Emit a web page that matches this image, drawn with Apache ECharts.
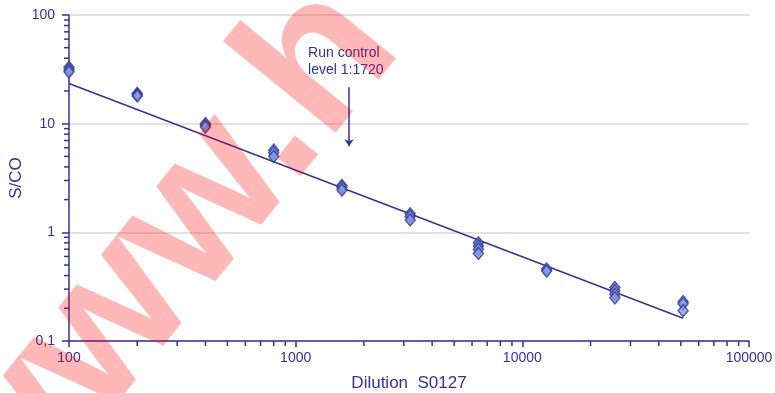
<!DOCTYPE html>
<html>
<head>
<meta charset="utf-8">
<script src="https://cdn.jsdelivr.net/npm/echarts@6/dist/echarts.min.js"></script>
<style>
  html, body { margin: 0; padding: 0; background: #ffffff; }
  #chart { width: 775px; height: 393px; }
</style>
</head>
<body>
<div id="chart"></div>
<script>
// Dilution series of S0127: S/CO readings (replicates) per dilution factor
const dilutions = [100, 200, 400, 800, 1600, 3200, 6400, 12800, 25600, 51200];
const replicates = [
  [33, 31.5, 30],
  [19, 18.5, 18],
  [10, 9.7, 9.3],
  [5.7, 5.4, 5.0],
  [2.7, 2.6, 2.45],
  [1.48, 1.4, 1.3],
  [0.8, 0.75, 0.7, 0.64],
  [0.46, 0.44],
  [0.31, 0.29, 0.27, 0.25],
  [0.23, 0.22, 0.19]
];

// Power trend line end points
const trendX = [100, 51200];
const trendY = [23.4, 0.162];

// Run control annotation (dilution 1:1720), arrow from/to S/CO
const controlDilution = 1720;
const arrowFromTo = [21.6, 6.2];
const controlText = ['Run control', 'level 1:1720'];

// Axis ranges and minor tick positions
const xRange = [100, 100000];
const yRange = [0.1, 100];
const xMinorTicks = [200, 300, 400, 500, 600, 700, 800, 900,
                     2000, 3000, 4000, 5000, 6000, 7000, 8000, 9000,
                     20000, 30000, 40000, 50000, 60000, 70000, 80000, 90000];
const yMinorTicks = [0.2, 0.3, 0.4, 0.5, 0.6, 0.7, 0.8, 0.9,
                     2, 3, 4, 5, 6, 7, 8, 9,
                     20, 30, 40, 50, 60, 70, 80, 90];

const NAVY = '#333399';
const FONT = 'Arial, "Liberation Sans", sans-serif';

const points = [];
dilutions.forEach((d, i) => replicates[i].forEach(v => points.push([d, v])));

const chart = echarts.init(document.getElementById('chart'), null, { renderer: 'canvas' });

const option = {
  animation: false,
  backgroundColor: '#ffffff',
  grid: { left: 69, right: 26, top: 15, bottom: 52, containLabel: false, outerBoundsMode: 'none' },
  xAxis: {
    type: 'log', logBase: 10, min: xRange[0], max: xRange[1],
    name: 'Dilution  S0127', nameLocation: 'middle', nameGap: 34, nameMoveOverlap: false,
    nameTextStyle: { color: NAVY, fontSize: 17, fontFamily: FONT },
    axisLine: { lineStyle: { color: NAVY, width: 1.5 } },
    axisTick: { show: true, length: 6, lineStyle: { color: NAVY, width: 1.5 } },
    axisLabel: { color: NAVY, fontSize: 14, fontFamily: FONT, margin: 10,
                 formatter: v => String(v) },
    splitLine: { show: false }
  },
  yAxis: {
    type: 'log', logBase: 10, min: yRange[0], max: yRange[1],
    name: 'S/CO', nameLocation: 'middle', nameGap: 44, nameRotate: 90, nameMoveOverlap: false,
    nameTextStyle: { color: NAVY, fontSize: 17, fontFamily: FONT },
    axisLine: { lineStyle: { color: NAVY, width: 1.5 } },
    axisTick: { show: true, length: 7, lineStyle: { color: NAVY, width: 1.5 } },
    axisLabel: {
      color: NAVY, fontSize: 14, fontFamily: FONT, margin: 14,
      formatter: v => String(v).replace('.', ',')
    },
    splitLine: { show: true, lineStyle: { color: '#d9d9d9', width: 1.5 } }
  },
  series: [
    {
      type: 'custom', name: 'xMinor', clip: false, silent: true, z: 3,
      data: xMinorTicks.map(v => [v, yRange[0]]),
      renderItem: (params, api) => {
        const p = api.coord([api.value(0), api.value(1)]);
        return { type: 'line', shape: { x1: p[0], y1: p[1], x2: p[0], y2: p[1] + 5 },
                 style: { stroke: NAVY, lineWidth: 1.5 } };
      }
    },
    {
      type: 'custom', name: 'yMinor', clip: false, silent: true, z: 3,
      data: yMinorTicks.map(v => [xRange[0], v]),
      renderItem: (params, api) => {
        const p = api.coord([api.value(0), api.value(1)]);
        return { type: 'line', shape: { x1: p[0] - 5, y1: p[1], x2: p[0], y2: p[1] },
                 style: { stroke: NAVY, lineWidth: 1.5 } };
      }
    },
    {
      type: 'line', name: 'trend', showSymbol: false, symbol: 'none', z: 4,
      data: trendX.map((x, i) => [x, trendY[i]]),
      lineStyle: { color: NAVY, width: 1.5 },
      markLine: {
        silent: true, symbol: ['none', 'arrow'], symbolSize: 7,
        label: { show: false },
        lineStyle: { color: NAVY, width: 1.5, type: 'solid' },
        data: [[
          { coord: [controlDilution, arrowFromTo[0]] },
          { coord: [controlDilution, arrowFromTo[1]] }
        ]]
      }
    },
    {
      type: 'scatter', name: 'S/CO', clip: false, z: 5,
      data: points,
      symbol: 'diamond', symbolSize: [10, 12],
      itemStyle: { color: '#7f9fdc', borderColor: NAVY, borderWidth: 1.5 }
    }
  ]
};

chart.setOption(option);

// Annotation text above the arrow, and the watermark overlay
const arrowTop = chart.convertToPixel({ gridIndex: 0 }, [controlDilution, arrowFromTo[0]]);
chart.setOption({
  graphic: [
    {
      type: 'text', x: arrowTop[0] - 41, y: arrowTop[1] - 43, z: 50,
      style: {
        text: controlText.join('\n'), fill: NAVY, fontSize: 14, fontFamily: FONT,
        lineHeight: 17, align: 'left', verticalAlign: 'top'
      }
    },
    {
      type: 'text', x: 12, y: 551, rotation: 0.89, z: 100, silent: true,
      style: {
        text: 'www.h', fill: 'rgba(255,0,0,0.28)',
        font: 'bold 200px "Liberation Sans", Arial, sans-serif',
        align: 'left', verticalAlign: 'middle', y: -67
      }
    }
  ]
});
</script>
</body>
</html>
